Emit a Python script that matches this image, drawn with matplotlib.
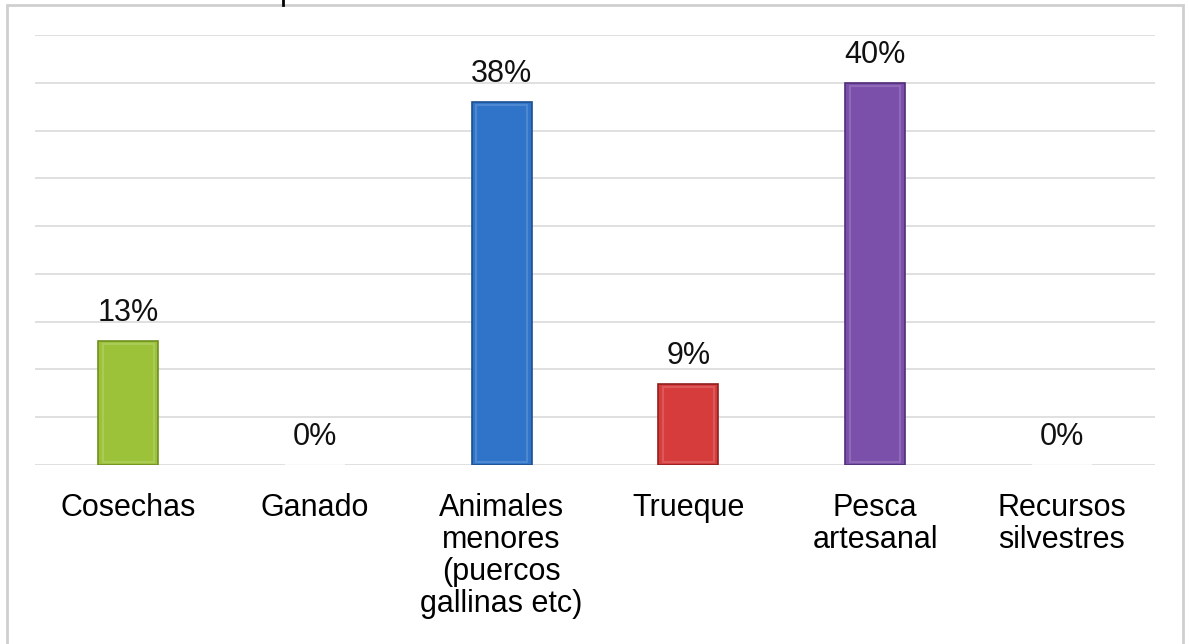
import matplotlib.pyplot as plt
from matplotlib.patches import Rectangle
from matplotlib.lines import Line2D

categories = ["Cosechas", "Ganado", "Animales\nmenores\n(puercos\ngallinas etc)",
              "Trueque", "Pesca\nartesanal", "Recursos\nsilvestres"]
values = [13, 0, 38, 8.5, 40, 0]
labels = ["13%", "0%", "38%", "9%", "40%", "0%"]
colors = ["#9cc23a", "#ffffff", "#2f74c9", "#d73c3c", "#7b50ab", "#ffffff"]
edges = ["#6f8f1f", "#ffffff", "#1d4f8f", "#8f1f1f", "#4f2f78", "#ffffff"]

plt.rcParams['font.family'] = ['Liberation Sans', 'DejaVu Sans']

fig = plt.figure(figsize=(11.89, 6.44), dpi=100)
ax = fig.add_axes([35 / 1189, 1 - 465 / 644, 1120 / 1189, 430 / 644])

x = range(len(categories))
bars = ax.bar(x, values, width=0.32, color=colors, edgecolor=edges, linewidth=1.2, zorder=3)
for b, v in zip(bars, values):
    if v > 0:
        # soft inner highlight for the bevelled look
        ax.add_patch(Rectangle((b.get_x() + 0.025, 0.3), b.get_width() - 0.05, v - 0.6,
                               facecolor="none", edgecolor="white", alpha=0.15,
                               linewidth=1.5, zorder=4))

for i, (v, lab) in enumerate(zip(values, labels)):
    ax.annotate(lab, (i, v), xytext=(0, 20), textcoords="offset points",
                ha="center", va="center", fontsize=22, color="#111111")

ax.set_xlim(-0.5, 5.5)
ax.set_ylim(0, 45)
ax.set_yticks(range(0, 46, 5))
ax.yaxis.grid(True, color="#dadada", linewidth=1.2, zorder=0)
ax.tick_params(axis="y", left=False, labelleft=False)
ax.tick_params(axis="x", bottom=False, pad=17)
ax.set_xticks(list(x))
ax.set_xticklabels(categories, fontsize=22, linespacing=1.08, va="top")
for s in ax.spines.values():
    s.set_visible(False)

# outer chart frame
fig.add_artist(Rectangle((7 / 1189, -0.01), 1176 / 1189, 1 - 5 / 644 + 0.01,
                         transform=fig.transFigure, facecolor="none",
                         edgecolor="#cfcfcf", linewidth=2))
fig.add_artist(Line2D([283 / 1189, 283 / 1189], [1, 1 - 5 / 644],
                      transform=fig.transFigure, color="black", linewidth=2))

plt.savefig("out.png", dpi=100)
